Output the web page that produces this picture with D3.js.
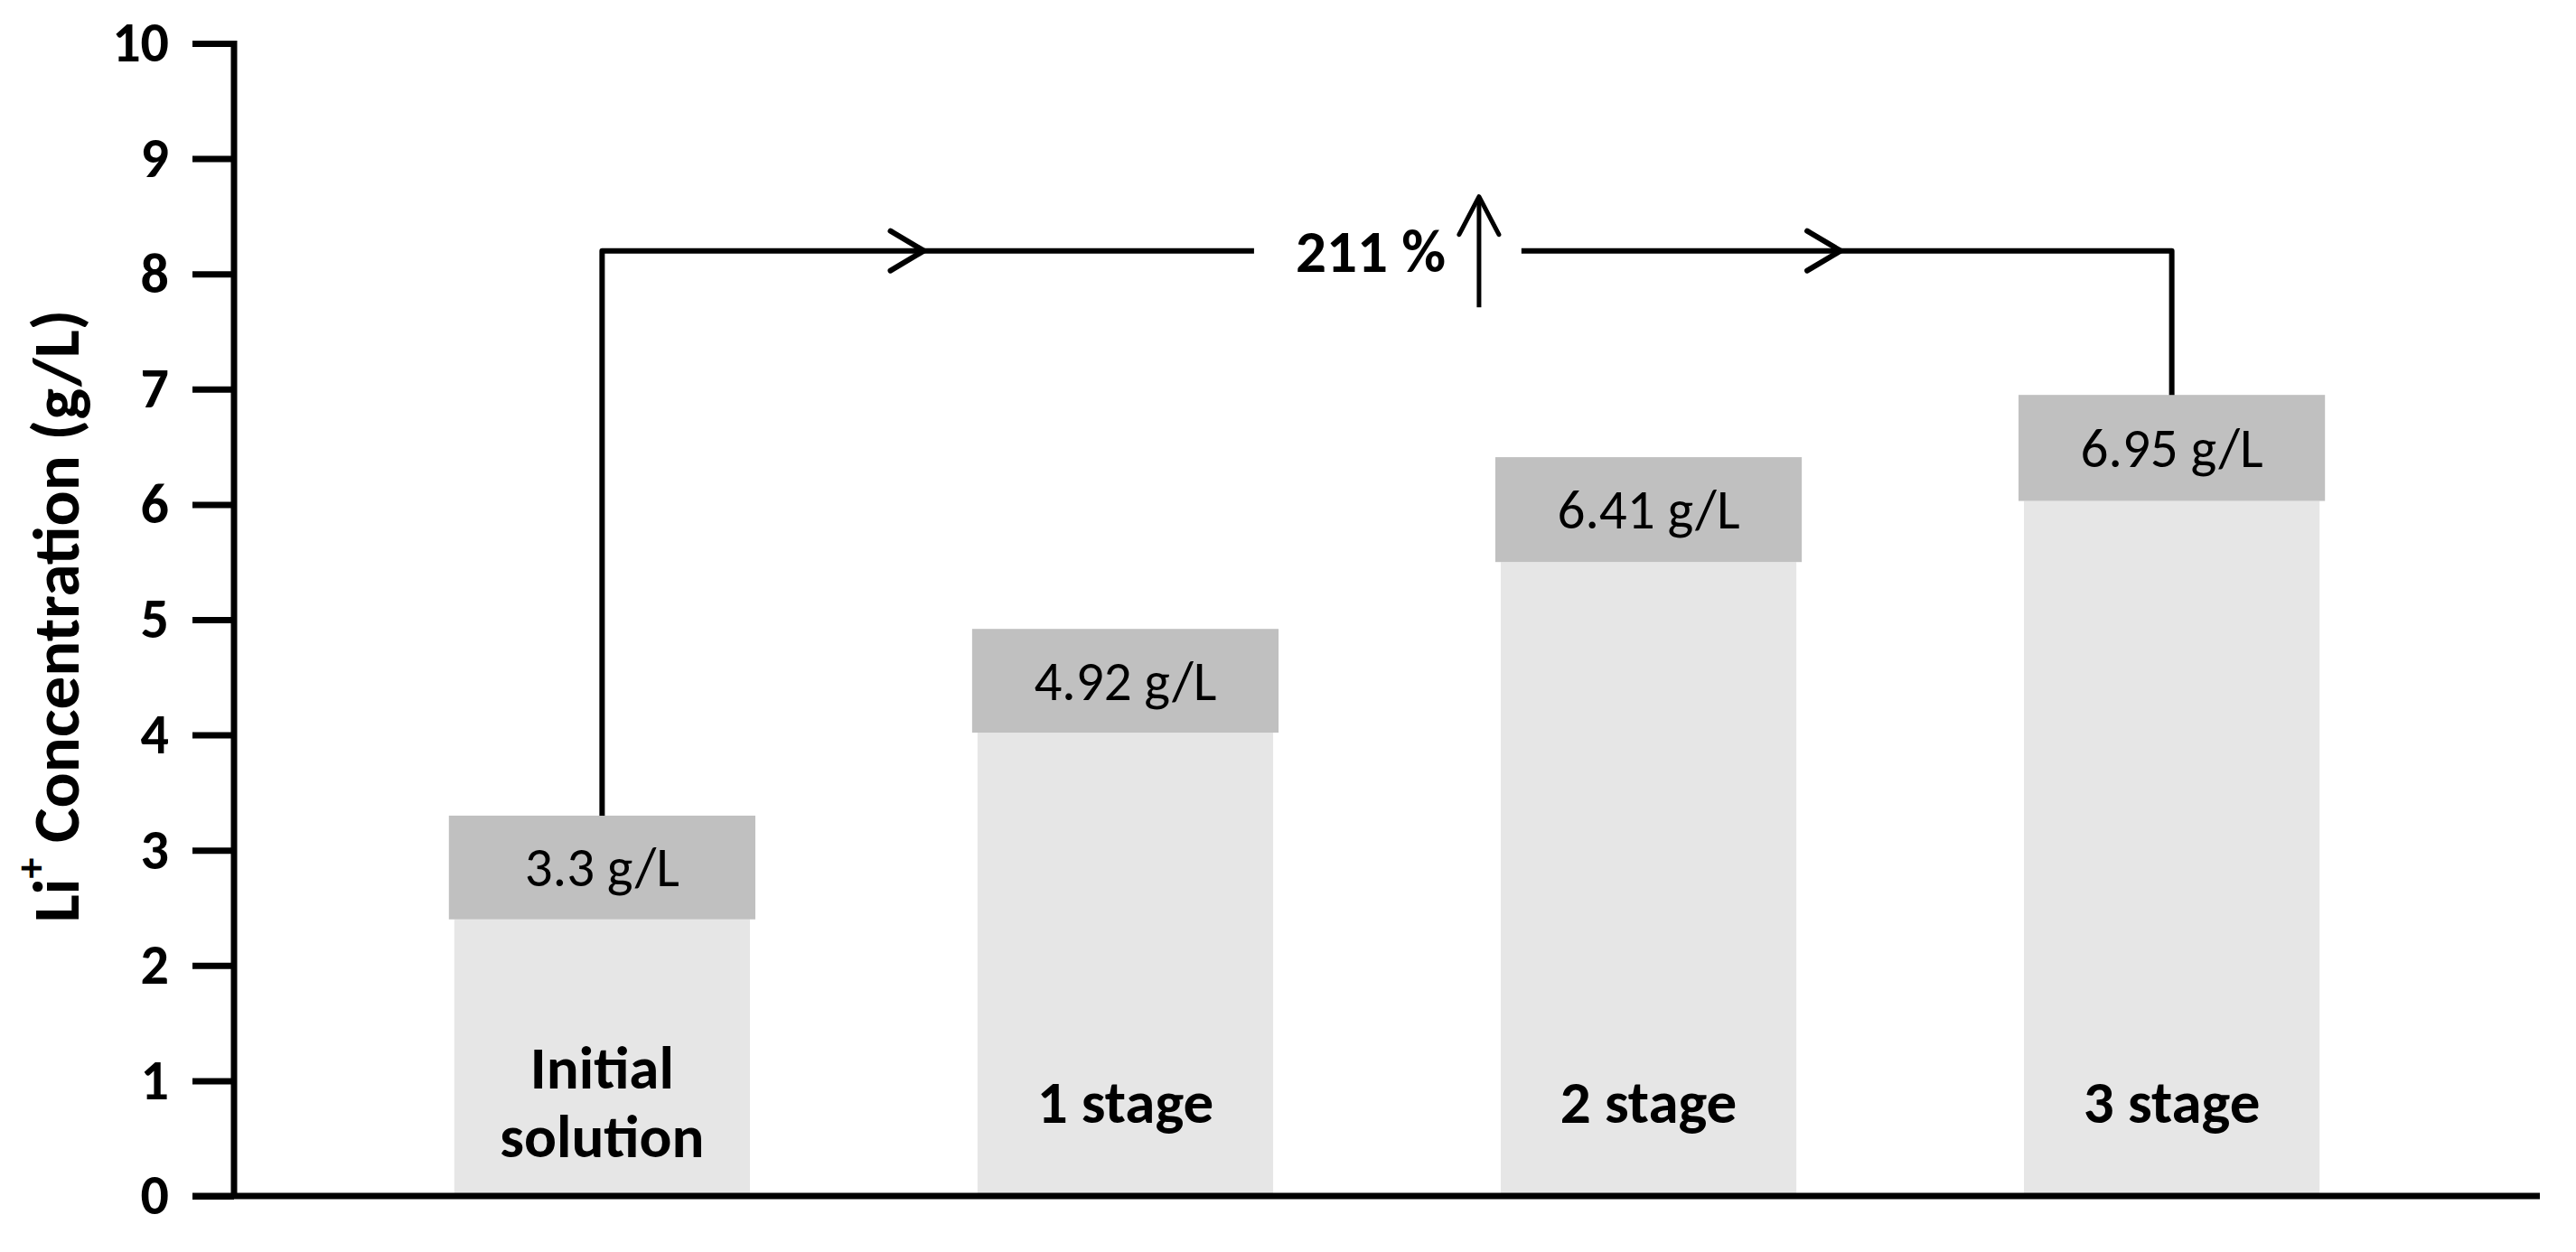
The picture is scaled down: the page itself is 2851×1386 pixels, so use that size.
<!DOCTYPE html>
<html>
<head>
<meta charset="utf-8">
<script src="https://cdn.jsdelivr.net/npm/d3@7"></script>
<style>
  html, body { margin: 0; padding: 0; background: #fff; }
  svg { display: block; }
  text { font-family: Carlito, Lato, "Open Sans", sans-serif; fill: #000; }
</style>
</head>
<body>
<script>
// ---- data ----
const categories = ["Initial solution", "1 stage", "2 stage", "3 stage"];
const categoryLines = [["Initial", "solution"], ["1 stage"], ["2 stage"], ["3 stage"]];
const totals = [3.3, 4.92, 6.41, 6.95];          // Li+ concentration (g/L)
const lowerPart = [2.4, 4.02, 5.5, 6.03];       // light lower segment top
const valueLabels = ["3.3 g/L", "4.92 g/L", "6.41 g/L", "6.95 g/L"];
const yTicks = [0, 1, 2, 3, 4, 5, 6, 7, 8, 9, 10];
const yTitle = ["Li", "+", " Concentration (g/L)"];
// annotation (positions in category-index units and y values)
const bracketLevel = 8.2;
const bracketFrom = 0, bracketTo = 3;
const chevronAt = [0.615, 2.367];
const gapFrom = 1.246, gapTo = 1.757;
const pctLabel = "211 %";
const pctAt = 1.469;
const upArrowAt = 1.676;
const upArrowRange = [7.71, 8.67];

// ---- layout ----
const W = 2851, H = 1386;
const svg = d3.select("body").append("svg").attr("width", W).attr("height", H);

const axisX = 259, xEnd = 2811;
const y = d3.scaleLinear().domain([0, 10]).range([1324, 48]);
const x = d3.scaleBand().domain(categories).range([axisX, xEnd])
  .paddingInner(0.435).paddingOuter(0.421);
const pos = d3.scaleLinear().domain([0, 3])
  .range([x(categories[0]) + x.bandwidth() / 2, x(categories[3]) + x.bandwidth() / 2]);

const barsG = svg.append("g");
// light lower segment
barsG.selectAll("rect.low").data(categories).join("rect")
  .attr("class", "low")
  .attr("x", d => x(d))
  .attr("width", x.bandwidth())
  .attr("y", (d, i) => y(lowerPart[i]))
  .attr("height", (d, i) => y(0) - y(lowerPart[i]))
  .attr("fill", "#e6e6e6");
// darker label band
barsG.selectAll("rect.top").data(categories).join("rect")
  .attr("class", "top")
  .attr("x", d => x(d) - 6)
  .attr("width", x.bandwidth() + 12)
  .attr("y", (d, i) => y(totals[i]))
  .attr("height", (d, i) => y(lowerPart[i]) - y(totals[i]))
  .attr("fill", "#c0c0c0");

// value labels
barsG.selectAll("text.val").data(categories).join("text")
  .attr("class", "val")
  .attr("x", d => x(d) + x.bandwidth() / 2)
  .attr("y", (d, i) => (y(totals[i]) + y(lowerPart[i])) / 2)
  .attr("text-anchor", "middle")
  .attr("dominant-baseline", "central")
  .style("font-size", "61px")
  .text((d, i) => valueLabels[i]);

// category labels inside bars
const catG = barsG.selectAll("text.cat").data(categories).join("text")
  .attr("class", "cat")
  .attr("x", d => x(d) + x.bandwidth() / 2)
  .attr("y", y(0.815))
  .attr("text-anchor", "middle")
  .style("font-size", "67px")
  .style("font-weight", "bold");
catG.each(function(d, i) {
  const lines = categoryLines[i];
  const t = d3.select(this);
  const lh = 76;
  lines.forEach((ln, j) => {
    t.append("tspan")
      .attr("x", x(d) + x.bandwidth() / 2)
      .attr("y", y(0.815) + (j - (lines.length - 1) / 2) * lh)
      .attr("dominant-baseline", "central")
      .text(ln);
  });
});

// ---- axes ----
const yAxis = d3.axisLeft(y).tickValues(yTicks).tickSize(46).tickSizeOuter(0).tickPadding(26)
  .tickFormat(d3.format("d"));
const yg = svg.append("g").attr("transform", `translate(${axisX},0)`).call(yAxis);
yg.select(".domain").attr("stroke", "#000").attr("stroke-width", 7)
  .attr("d", `M0,${y(10) - 3}V${y(0)}`);
yg.selectAll(".tick line").attr("stroke", "#000").attr("stroke-width", 7);
yg.selectAll(".tick text")
  .style("font-family", "Carlito, Lato, 'Open Sans', sans-serif")
  .style("font-size", "62px").style("font-weight", "bold").attr("fill", "#000");

// x axis baseline
svg.append("line")
  .attr("x1", axisX - 46).attr("x2", xEnd)
  .attr("y1", y(0)).attr("y2", y(0))
  .attr("stroke", "#000").attr("stroke-width", 7);

// y title
const yt = svg.append("text")
  .attr("transform", `translate(62, ${(y(0) + y(10)) / 2 - 4}) rotate(-90)`)
  .attr("text-anchor", "middle")
  .attr("dominant-baseline", "central")
  .style("font-size", "73px").style("font-weight", "bold");
yt.append("tspan").text(yTitle[0]);
yt.append("tspan").attr("baseline-shift", "super").style("font-size", "46px").text(yTitle[1]);
yt.append("tspan").text(yTitle[2]);

// ---- annotation bracket ----
const ann = svg.append("g").attr("fill", "none").attr("stroke", "#000");
const by = y(bracketLevel);
ann.append("path")
  .attr("stroke-width", 6)
  .attr("stroke-linejoin", "round")
  .attr("d", `M${pos(bracketFrom)},${y(totals[bracketFrom])}V${by}H${pos(gapFrom)}`);
ann.append("path")
  .attr("stroke-width", 6)
  .attr("stroke-linejoin", "round")
  .attr("d", `M${pos(gapTo)},${by}H${pos(bracketTo)}V${y(totals[bracketTo])}`);
chevronAt.forEach(c => {
  const cx = pos(c);
  ann.append("path")
    .attr("stroke-width", 6)
    .attr("stroke-linecap", "round")
    .attr("stroke-linejoin", "round")
    .attr("d", `M${cx - 37},${by - 22}L${cx},${by}L${cx - 37},${by + 22}`);
});
// up arrow
const ux = pos(upArrowAt);
ann.append("path")
  .attr("stroke-width", 5)
  .attr("d", `M${ux},${y(upArrowRange[0])}V${y(upArrowRange[1]) + 2}`);
ann.append("path")
  .attr("stroke-width", 5)
  .attr("stroke-linecap", "round")
  .attr("stroke-linejoin", "round")
  .attr("d", `M${ux - 22},${y(upArrowRange[1]) + 42}L${ux},${y(upArrowRange[1])}L${ux + 22},${y(upArrowRange[1]) + 42}`);
svg.append("text")
  .attr("x", pos(pctAt))
  .attr("y", by)
  .attr("text-anchor", "middle")
  .attr("dominant-baseline", "central")
  .style("font-size", "67px").style("font-weight", "bold")
  .text(pctLabel);
</script>
</body>
</html>
